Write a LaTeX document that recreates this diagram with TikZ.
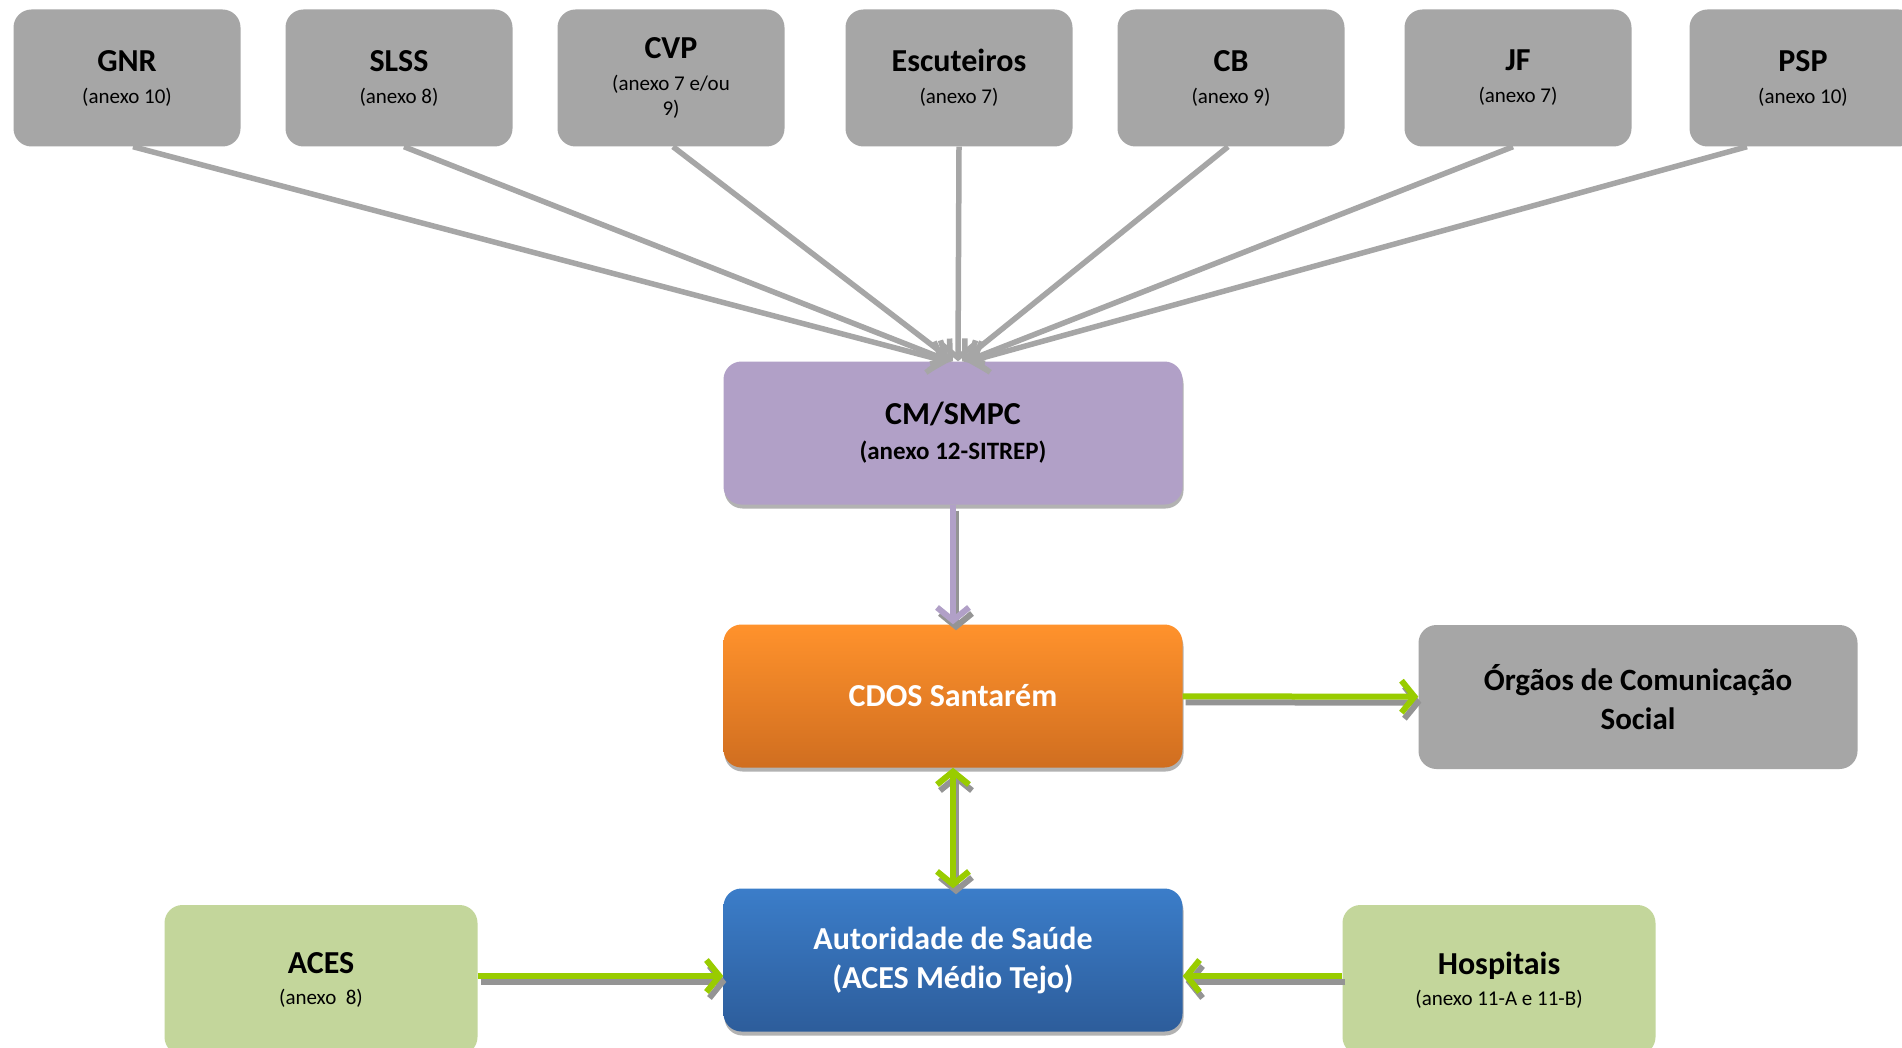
\documentclass[tikz,border=0pt]{standalone}
\usepackage{fontspec}
\setmainfont{Carlito}
\usetikzlibrary{arrows.meta,positioning,shadows}

\definecolor{boxgray}{HTML}{A6A6A6}
\definecolor{cmpurple}{HTML}{B1A0C7}
\definecolor{acesgreen}{HTML}{C3D69B}
\definecolor{arrgreen}{HTML}{99CC00}
\definecolor{orangetop}{HTML}{FF922C}
\definecolor{orangebot}{HTML}{D06E20}
\definecolor{bluetop}{HTML}{3B7DC9}
\definecolor{bluebot}{HTML}{2D5D9B}

\newcommand{\titlesize}{\bfseries\fontsize{32}{36}\selectfont}

\tikzset{
  box/.style={rounded corners=18pt, align=center, inner sep=0pt},
  boxshadow/.style={general shadow={fill=black!30, shadow xshift=1pt, shadow yshift=-4pt}},
  topbox/.style={box, fill=boxgray, minimum width=227pt, minimum height=137pt,
    font=\fontsize{21}{25}\selectfont},
  midbox/.style={box, boxshadow, minimum width=459pt, minimum height=143pt},
  sidebox/.style={box, fill=acesgreen, minimum width=313pt, minimum height=150pt,
    font=\fontsize{21}{31}\selectfont},
  greyline/.style={draw=boxgray, line width=5.5pt, ->},
  purpleline/.style={draw=cmpurple, line width=6pt, ->},
  greenline/.style={draw=arrgreen, line width=6pt},
  dropline/.style={draw=black!42, line width=6pt, transform canvas={shift={(3pt,-6pt)}}}
}

\begin{document}
\begin{tikzpicture}[x=1pt,y=-1pt, >={Straight Barb[length=13pt,width=32pt]}]
  \clip (0,0) rectangle (1902,1048);
  \fill[white] (0,0) rectangle (1902,1048);

  \foreach \nm/\x/\hd/\sb in {gnr/127/GNR/(anexo 10), slss/399/SLSS/(anexo 8),
      cvp/671/CVP/{(anexo 7 e/ou\\9)}, esc/959/Escuteiros/(anexo 7),
      cb/1231/CB/(anexo 9), jf/1518/JF/(anexo 7), psp/1803/PSP/(anexo 10)}
    \node[topbox] (\nm) at (\x,78) {{\titlesize \hd}\\[7pt]\sb};

  \node[midbox, fill=cmpurple, font=\bfseries\fontsize{25}{35}\selectfont]
    (cm) at (953,433) {{\titlesize CM/SMPC}\\(anexo 12-SITREP)};
  \node[midbox, top color=orangetop, bottom color=orangebot, text=white]
    (cdos) at (953,696) {\titlesize CDOS Santarém};
  \node[midbox, top color=bluetop, bottom color=bluebot, text=white,
    font=\bfseries\fontsize{32}{39}\selectfont]
    (aut) at (953,960) {Autoridade de Saúde\\(ACES Médio Tejo)};
  \node[box, fill=boxgray, minimum width=439pt, minimum height=144pt,
    font=\bfseries\fontsize{31}{39}\selectfont]
    (org) at (1638,697) {Órgãos de Comunicação\\Social};

  \node[sidebox] (aces) at (321,980) {{\titlesize ACES}\\(anexo~~8)};
  \node[sidebox] (hosp) at (1499,980) {{\titlesize Hospitais}\\(anexo 11-A e 11-B)};

  \foreach \nm/\sx/\dx in {gnr/6/-7, slss/5/-3, cvp/2/0, esc/0/5, cb/-3/9, jf/-5/13, psp/-56/17}
    \draw[greyline] ([xshift=\sx pt]\nm.south) -- ([xshift=\dx pt]cm.north);

  \draw[dropline, ->] (cm) -- (cdos);
  \draw[purpleline] (cm) -- (cdos);

  \draw[dropline, ->] (cdos) -- (org);
  \draw[greenline, ->] (cdos) -- (org);

  \draw[dropline, <->] (cdos) -- (aut);
  \draw[greenline, <->] (cdos) -- (aut);

  \draw[dropline, ->] ([yshift=4pt]aces.east) -- ([yshift=4pt]aces.east -| aut.west);
  \draw[greenline, ->] ([yshift=4pt]aces.east) -- ([yshift=4pt]aces.east -| aut.west);

  \draw[dropline, ->] ([yshift=4pt]hosp.west) -- ([yshift=4pt]hosp.west -| aut.east);
  \draw[greenline, ->] ([yshift=4pt]hosp.west) -- ([yshift=4pt]hosp.west -| aut.east);
\end{tikzpicture}
\end{document}
